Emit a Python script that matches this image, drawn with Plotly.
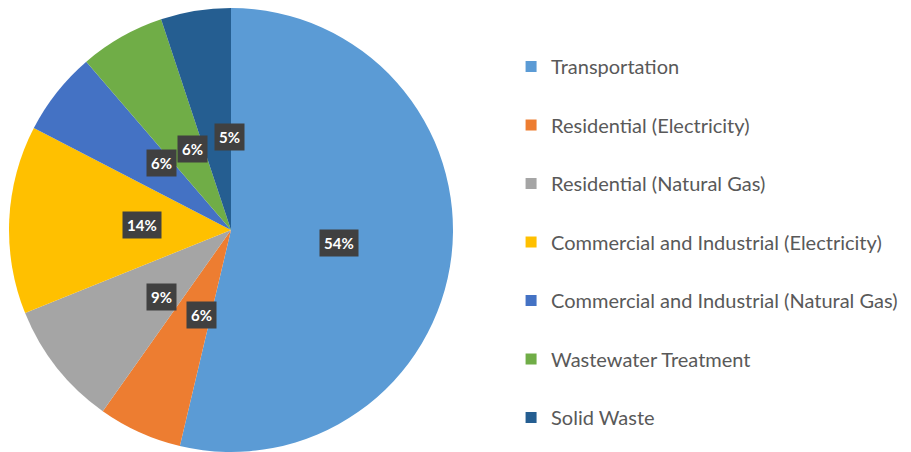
import math
import plotly.graph_objects as go

categories = [
    "Transportation",
    "Residential (Electricity)",
    "Residential (Natural Gas)",
    "Commercial and Industrial (Electricity)",
    "Commercial and Industrial (Natural Gas)",
    "Wastewater Treatment",
    "Solid Waste",
]
values = [53.7, 6.1, 9.1, 13.7, 6.1, 6.2, 5.1]
colors = ["#5B9BD5", "#ED7D31", "#A5A5A5", "#FFC000", "#4472C4", "#70AD47", "#255E91"]

W, H = 911, 452
cx, cy, r = 231, 230, 222  # pie center / radius in pixels

fig = go.Figure()
fig.add_trace(go.Pie(
    labels=categories, values=values, sort=False, direction="clockwise", rotation=0,
    marker=dict(colors=colors, line=dict(color="white", width=0)),
    textinfo="none", showlegend=False, hoverinfo="label+percent",
    domain=dict(x=[(cx - r) / W, (cx + r) / W], y=[(H - cy - r) / H, (H - cy + r) / H]),
))

# data labels in dark boxes at half radius of each slice's mid angle
total = sum(values)
cum = 0
for v in values:
    mid = (cum + v / 2) / total * 2 * math.pi
    cum += v
    px = cx + 0.49 * r * math.sin(mid)
    py = cy - 0.49 * r * math.cos(mid)
    fig.add_annotation(
        x=px / W, y=(H - py) / H, xref="paper", yref="paper", showarrow=False,
        text="<b>%d%%</b>" % round(v / total * 100),
        font=dict(family="Lato", size=15, color="white"),
        bgcolor="#404040", borderpad=4,
    )

for name, col in zip(categories, colors):
    fig.add_trace(go.Scatter(
        x=[None], y=[None], mode="markers", name=name, legendgroup=name,
        marker=dict(symbol="square", size=11, color=col),
    ))

fig.update_layout(
    width=W, height=H, margin=dict(l=0, r=0, t=0, b=0),
    paper_bgcolor="white", plot_bgcolor="white",
    xaxis=dict(visible=False), yaxis=dict(visible=False),
    legend=dict(x=0.561, y=0.896, xanchor="left", yanchor="top",
                font=dict(family="Lato", size=20, color="#595959"),
                tracegroupgap=29.5, itemclick=False),
)

fig.write_html("out.html", config={"displayModeBar": False},
               post_script="document.body.style.margin='0';")
